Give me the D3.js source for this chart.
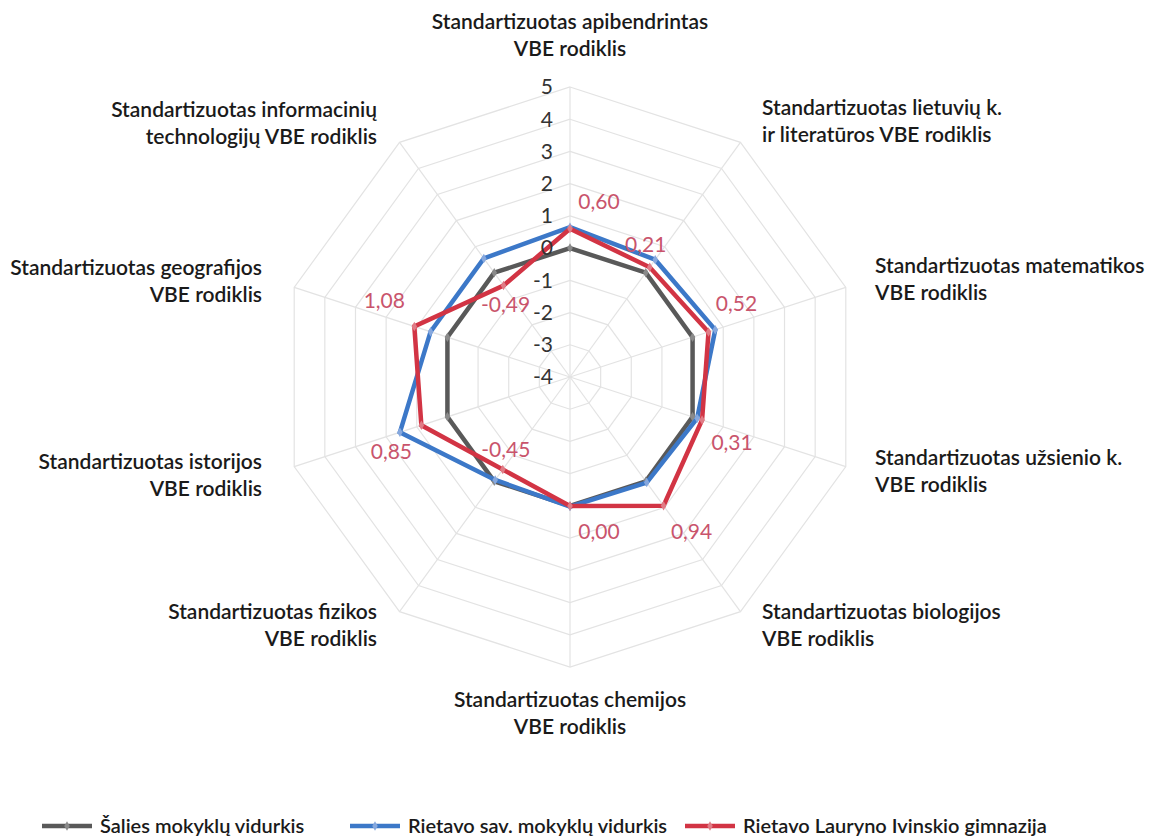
<!DOCTYPE html>
<html><head><meta charset="utf-8">
<script src="https://cdn.jsdelivr.net/npm/d3@7"></script>
<style>
body{margin:0;background:#fff;}
svg{display:block;font-family:Lato,"Open Sans",sans-serif;}
</style></head>
<body><svg id="c" width="1163" height="839"></svg>
<script>
// ---- data ----
const categories = [
  ["Standartizuotas apibendrintas","VBE rodiklis"],
  ["Standartizuotas lietuvių k.","ir literatūros VBE rodiklis"],
  ["Standartizuotas matematikos","VBE rodiklis"],
  ["Standartizuotas užsienio k.","VBE rodiklis"],
  ["Standartizuotas biologijos","VBE rodiklis"],
  ["Standartizuotas chemijos","VBE rodiklis"],
  ["Standartizuotas fizikos","VBE rodiklis"],
  ["Standartizuotas istorijos","VBE rodiklis"],
  ["Standartizuotas geografijos","VBE rodiklis"],
  ["Standartizuotas informacinių","technologijų VBE rodiklis"]
];
const seriesNames = ["Šalies mokyklų vidurkis","Rietavo sav. mokyklų vidurkis","Rietavo Lauryno Ivinskio gimnazija"];
const salies   = [0, 0, 0, 0, 0, 0, 0, 0, 0, 0];
const rietavoSav = [0.65, 0.50, 0.74, 0.15, 0.05, 0.02, -0.05, 1.55, 0.55, 0.55];
const gimnazija = [0.60, 0.21, 0.52, 0.31, 0.94, 0.00, -0.45, 0.85, 1.08, -0.49];
const radialTicks = [-4,-3,-2,-1,0,1,2,3,4,5];

// ---- layout / style ----
const colors = ["#595959","#3c78c8","#d23444"];
const markerFill = ["#8a8a8a","#86a8de","#e07c86"];
const labelColor = "#c9546c";
// category label placement: [anchor, dx, dy of first line] relative to centre
const catLabelCfg = [
  ["middle",0,-355],["start",192,-269],["start",305,-111],["start",305,81],["start",192,235],
  ["middle",0,323],["end",-193,235],["end",-308,85],["end",-308,-109],["end",-193,-267]
];
// data label offsets relative to the point
const dataLabelOff = [[29,-27],[-4,-23],[28,-28],[30,23],[28,26],[29,26],[3,-20],[-30,26],[-30,-26],[2,19]];

const svg = d3.select("#c");
const cx = 570, cy = 377, R = 290;
const r = d3.scaleLinear().domain([-4,5]).range([0,R]);
const n = categories.length;
const ang = i => i*2*Math.PI/n;
const pt = (i,v) => [cx + r(v)*Math.sin(ang(i)), cy - r(v)*Math.cos(ang(i))];

const g = svg.append("g");
// grid rings
radialTicks.slice(1).forEach(t=>{
  g.append("path")
   .attr("d", d3.line()(d3.range(n).map(i=>pt(i,t))) + "Z")
   .attr("fill","none").attr("stroke","#e3e3e3").attr("stroke-width",1.2);
});
// spokes
d3.range(n).forEach(i=>{
  const [x,y] = pt(i,5);
  g.append("line").attr("x1",cx).attr("y1",cy).attr("x2",x).attr("y2",y)
   .attr("stroke","#e3e3e3").attr("stroke-width",1.2);
});

// series
const allSeries = [salies, rietavoSav, gimnazija];
const line = d3.line().curve(d3.curveLinearClosed);
allSeries.forEach((vals,s)=>{
  const pts = vals.map((v,i)=>pt(i,v));
  g.append("path").attr("d", line(pts)).attr("fill","none")
   .attr("stroke",colors[s]).attr("stroke-width",4.5).attr("stroke-linejoin","miter");
  g.selectAll(null).data(pts).enter().append("path")
   .attr("d", d3.symbol(d3.symbolDiamond, 26)())
   .attr("transform", d=>`translate(${d[0]},${d[1]})`)
   .attr("fill",markerFill[s]).attr("stroke","none");
});

// tick labels
radialTicks.forEach(t=>{
  g.append("text").attr("x",cx-17).attr("y",cy - r(t)).attr("dy","0.35em")
   .attr("text-anchor","end").attr("font-size",21).attr("fill","#333").text(t);
});

// data labels
gimnazija.forEach((v,i)=>{
  const [x,y] = pt(i,v);
  g.append("text").attr("x",x+dataLabelOff[i][0]).attr("y",y+dataLabelOff[i][1]).attr("dy","0.35em")
   .attr("text-anchor","middle").attr("font-size",21).attr("fill",labelColor)
   .text(d3.format(".2f")(v).replace(".",",").replace("−","-"));
});

// category labels
categories.forEach((lines,i)=>{
  const [anc,dx,dy] = catLabelCfg[i];
  const t = g.append("text").attr("text-anchor",anc).attr("font-size",21).attr("fill","#1a1a1a")
    .attr("font-weight",600);
  lines.forEach((l,k)=>{
    t.append("tspan").attr("x",cx+dx).attr("y",cy+dy+k*26.5).attr("dy","0.35em").text(l);
  });
});

// legend
const legX = [42,350,685], legY = 826;
seriesNames.forEach((nm,s)=>{
  const lg = svg.append("g").attr("transform",`translate(${legX[s]},${legY})`);
  lg.append("line").attr("x1",0).attr("x2",50).attr("y1",0).attr("y2",0)
    .attr("stroke",colors[s]).attr("stroke-width",4.5);
  lg.append("path").attr("d", d3.symbol(d3.symbolDiamond, 26)()).attr("transform","translate(25,0)")
    .attr("fill",markerFill[s]);
  lg.append("text").attr("x",58).attr("y",0).attr("dy","0.35em").attr("font-size",20)
    .attr("fill","#1a1a1a").attr("font-weight",600).text(nm);
});
</script></body></html>
